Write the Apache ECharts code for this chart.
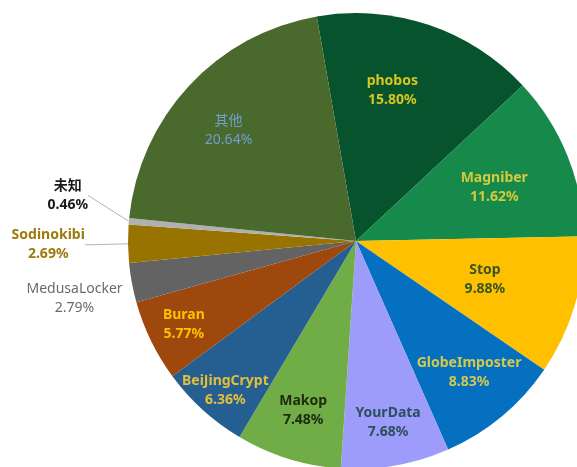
<!DOCTYPE html>
<html>
<head>
<meta charset="utf-8">
<style>
  html, body { margin: 0; padding: 0; background: #fff; }
  #chart { width: 577px; height: 467px; }
</style>
<script src="https://cdn.jsdelivr.net/npm/echarts@6/dist/echarts.min.js"></script>
</head>
<body>
<div id="chart"></div>
<script>
// 勒索家族占比（顺时针，从 phobos 开始）
var families = ['phobos', 'Magniber', 'Stop', 'GlobeImposter', 'YourData', 'Makop',
  'BeiJingCrypt', 'Buran', 'MedusaLocker', 'Sodinokibi', '未知', '其他'];
var shares = [15.80, 11.62, 9.88, 8.83, 7.68, 7.48, 6.36, 5.77, 2.79, 2.69, 0.46, 20.64];

var sliceColors = ['#06532d', '#158a4b', '#ffc000', '#0570c0', '#9e9cfb', '#71ad47',
  '#255e91', '#9e480e', '#636363', '#997300', '#b0b0b0', '#4a6a2d'];
var textColors = ['#d8c51f', '#d7c93a', '#375623', '#d4c94a', '#2c4f5e', '#1c2a10',
  '#e2c03a', '#ffc000', '#6b6b6b', '#9c7a0c', '#1a1a1a', '#6e9fd0'];
// 标签离圆心的距离（半径倍数）和角度微调（度，顺时针为正）
var labelDist = [0.68, 0.65, 0.59, 0.76, 0.81, 0.78, 0.87, 0.84, 1.26, 1.35, 1.28, 0.74];
var labelTurn = [-5, 1, 0, -1, 0, 0, -1, 0, -1, 0, 4, -2];
var outside = { 'Sodinokibi': 8, '未知': 0 };

var cx = 356, cy = 241, R = 228;

var chart = echarts.init(document.getElementById('chart'));

var data = families.map(function (name, i) {
  var isOut = outside.hasOwnProperty(name);
  return {
    name: name,
    value: shares[i],
    itemStyle: { color: sliceColors[i] },
    label: {
      position: isOut ? 'outside' : 'inside',
      color: textColors[i],
      fontWeight: (name === 'MedusaLocker' || name === '其他') ? 'normal' : 'bold'
    },
    labelLine: isOut ? { show: true, length: 8, length2: outside[name] } : { show: false }
  };
});

var option = {
  animation: false,
  series: [{
    type: 'pie',
    center: [cx, cy],
    radius: R,
    startAngle: 99.9,
    clockwise: true,
    avoidLabelOverlap: false,
    itemStyle: { borderWidth: 0 },
    emphasis: { disabled: true },
    label: {
      fontFamily: '"Noto Sans", "Noto Sans CJK SC", sans-serif',
      fontSize: 14,
      lineHeight: 19,
      formatter: function (p) {
        return p.name + '\n' + p.value.toFixed(2) + '%';
      }
    },
    labelLine: {
      lineStyle: { color: '#b4b4b4', width: 1 }
    },
    labelLayout: function (p) {
      var i = p.dataIndex;
      var px, py;
      if (p.labelLinePoints) {
        px = p.labelLinePoints[0][0];
        py = p.labelLinePoints[0][1];
      } else {
        px = p.labelRect.x + p.labelRect.width / 2;
        py = p.labelRect.y + p.labelRect.height / 2;
      }
      var a = Math.atan2(py - cy, px - cx) + labelTurn[i] * Math.PI / 180;
      var d = R * labelDist[i];
      return {
        x: cx + Math.cos(a) * d,
        y: cy + Math.sin(a) * d,
        align: 'center',
        verticalAlign: 'middle'
      };
    },
    data: data
  }]
};

chart.setOption(option);
</script>
</body>
</html>
